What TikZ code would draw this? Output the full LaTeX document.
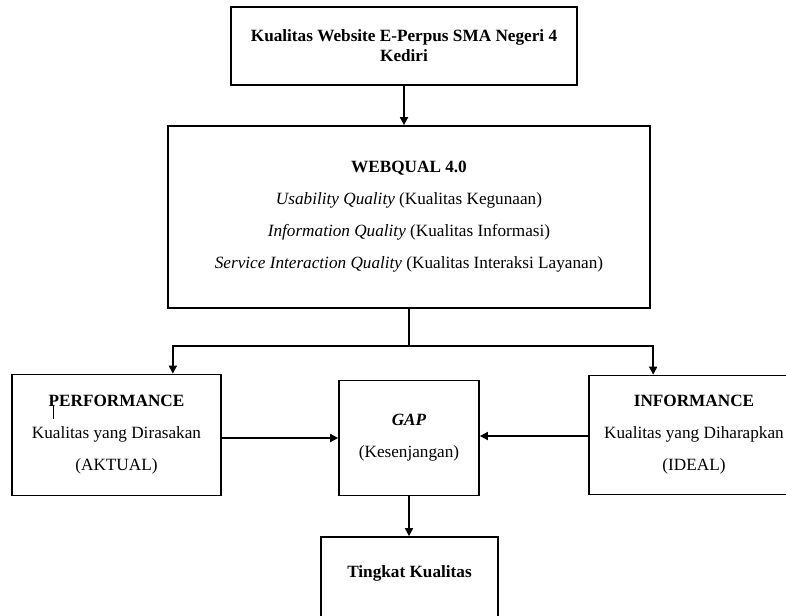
\documentclass[tikz,border=0pt]{standalone}
\usepackage{fontspec}
\setmainfont{Liberation Serif}
\usepackage{tikz}
\usetikzlibrary{arrows.meta,positioning,calc}

\begin{document}
\begin{tikzpicture}[
  x=1pt, y=-1pt,
  box/.style={draw, line width=1.7pt, align=center, inner sep=2pt, font=\fontsize{17.2}{32}\selectfont},
  arr/.style={-{Triangle[length=8pt,width=8pt]}, line width=1.7pt}
]
\useasboundingbox (0,0) rectangle (786,615);

\node[box, minimum width=346pt, minimum height=78pt, font=\bfseries\fontsize{17.2}{20}\selectfont] (site) at (404,46) {Kualitas Website E-Perpus SMA Negeri 4\\ Kediri};

\node[box, minimum width=482pt, minimum height=182pt] (web) at (409,217) {\textbf{WEBQUAL 4.0}\\ \textit{Usability Quality} (Kualitas Kegunaan)\\ \textit{Information Quality} (Kualitas Informasi)\\ \textit{Service Interaction Quality} (Kualitas Interaksi Layanan)};

\node[box, minimum width=209pt, minimum height=121pt] (perf) at (116.5,435) {\textbf{PERFORMANCE}\\ Kualitas yang Dirasakan\\ (AKTUAL)};

\node[box, minimum width=140pt, minimum height=115pt] (gap) at (409,438) {\textbf{\textit{GAP}}\\ (Kesenjangan)};

\node[box, minimum width=210pt, minimum height=119pt] (info) at (694,435) {\textbf{INFORMANCE}\\ Kualitas yang Diharapkan\\ (IDEAL)};

\node[box, minimum width=177pt, minimum height=88pt, text depth=18pt] (tk) at (409.5,581) {\textbf{Tingkat Kualitas}};

\coordinate (split) at (409,346);
\draw[arr] (site.south) -- (site.south |- web.north);
\draw[line width=1.7pt] (web.south) -- (split);
\draw[arr] (split) -| ([xshift=-49pt]perf.north east);
\draw[arr] (split) -| ([xshift=65pt]info.north west);
\draw[arr] (perf.east |- 0,438) -- (gap.west |- 0,438);
\draw[arr] (info.west |- 0,436) -- (gap.east |- 0,436);
\draw[arr] (gap.south) -- (gap.south |- tk.north);
\draw[line width=0.8pt] (53,405) -- (53,419);
\end{tikzpicture}
\end{document}
